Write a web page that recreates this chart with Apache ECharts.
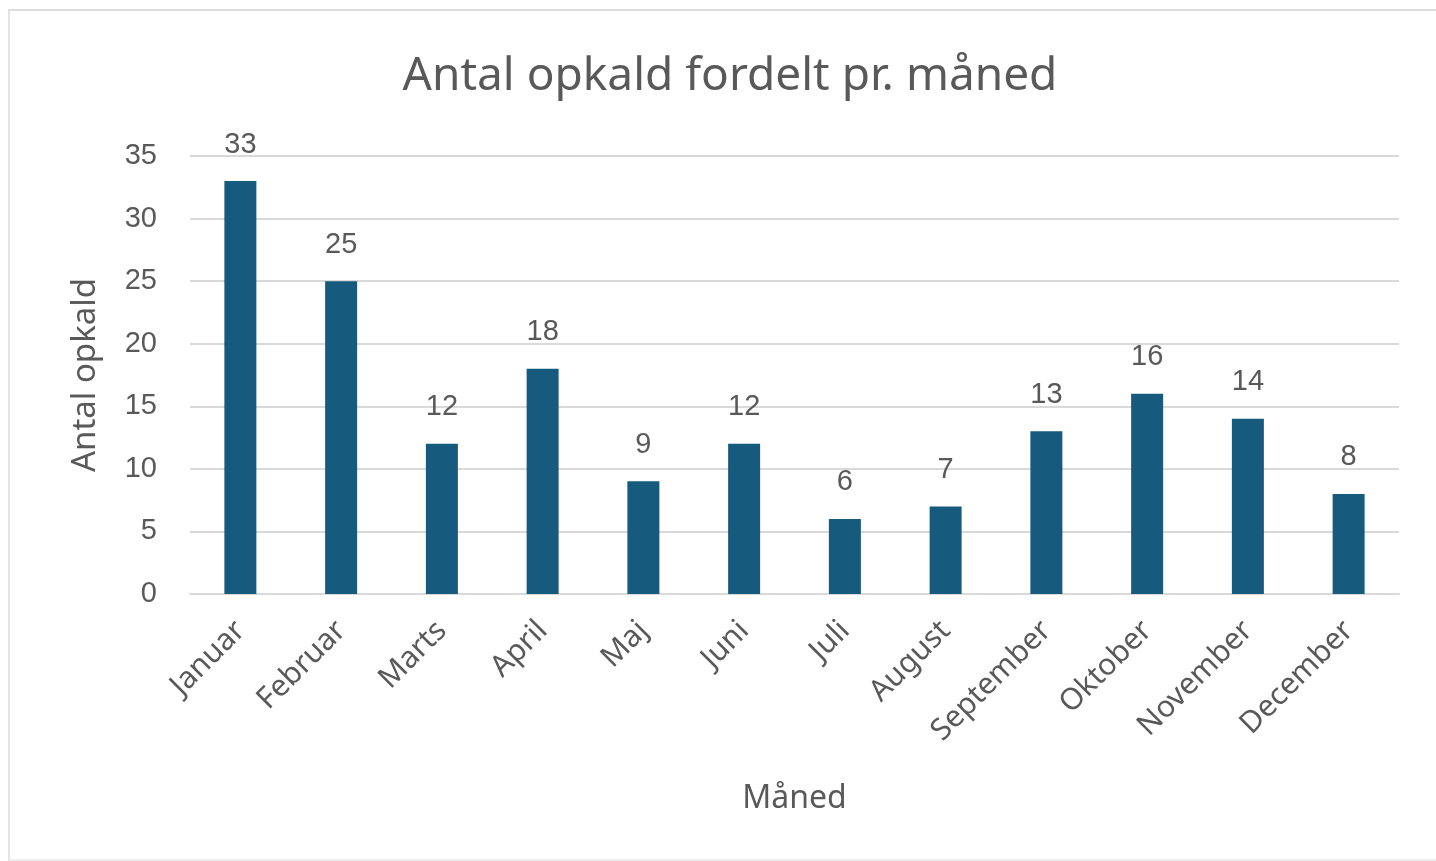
<!DOCTYPE html>
<html>
<head>
<meta charset="utf-8">
<title>Antal opkald fordelt pr. måned</title>
<script src="https://cdn.jsdelivr.net/npm/echarts@6/dist/echarts.min.js"></script>
<style>
  html, body { margin: 0; padding: 0; background: #fff; overflow: hidden; }
  #main { width: 1436px; height: 861px; }
  #frame {
    position: absolute; left: 8px; top: 9px; width: 1426px; height: 848px;
    border-top: 2px solid #dcdcdc; border-left: 2px solid #e4e4e4; border-bottom: 2px solid #eeeeee;
    pointer-events: none;
  }
</style>
</head>
<body>
<div id="main"></div>
<div id="frame"></div>
<script>
// data
var months = ["Januar", "Februar", "Marts", "April", "Maj", "Juni", "Juli", "August", "September", "Oktober", "November", "December"];
var calls = [33, 25, 12, 18, 9, 12, 6, 7, 13, 16, 14, 8];
var yTicks = [0, 5, 10, 15, 20, 25, 30, 35];

var textColor = "#595959";
var numFont = "'Liberation Sans', Arial, sans-serif";
var wordFont = "'Noto Sans', 'Open Sans', sans-serif";

var myChart = echarts.init(document.getElementById("main"));
myChart.setOption({
  backgroundColor: "#fff",
  animation: false,
  title: {
    text: "Antal opkald fordelt pr. måned",
    left: 725,
    top: 49,
    textAlign: "center",
    textStyle: { fontFamily: wordFont, fontSize: 46, fontWeight: "normal", color: textColor }
  },
  grid: { left: 190, right: 37, top: 156, bottom: 267 },
  xAxis: {
    type: "category",
    data: months,
    name: "Måned",
    nameLocation: "middle",
    nameGap: 189,
    nameTextStyle: { fontFamily: wordFont, fontSize: 32, color: textColor },
    axisLine: { show: true, lineStyle: { color: "#d9d9d9", width: 2 } },
    axisTick: { show: false },
    axisLabel: {
      interval: 0,
      rotate: 45,
      margin: 32,
      fontFamily: wordFont,
      fontSize: 30,
      color: textColor
    }
  },
  yAxis: {
    type: "value",
    min: yTicks[0],
    max: yTicks[yTicks.length - 1],
    interval: 5,
    name: "Antal opkald",
    nameLocation: "middle",
    nameGap: 88,
    nameTextStyle: { fontFamily: wordFont, fontSize: 33, color: textColor },
    axisLine: { show: false },
    axisTick: { show: false },
    axisLabel: { margin: 33, fontFamily: numFont, fontSize: 29, color: textColor },
    splitLine: { lineStyle: { color: "#d9d9d9", width: 2 } }
  },
  series: [
    {
      type: "bar",
      data: calls,
      barWidth: 32,
      itemStyle: { color: "#165b7d" },
      label: {
        show: true,
        position: "top",
        distance: 22,
        fontFamily: numFont,
        fontSize: 29,
        color: textColor
      }
    }
  ]
});
</script>
</body>
</html>
